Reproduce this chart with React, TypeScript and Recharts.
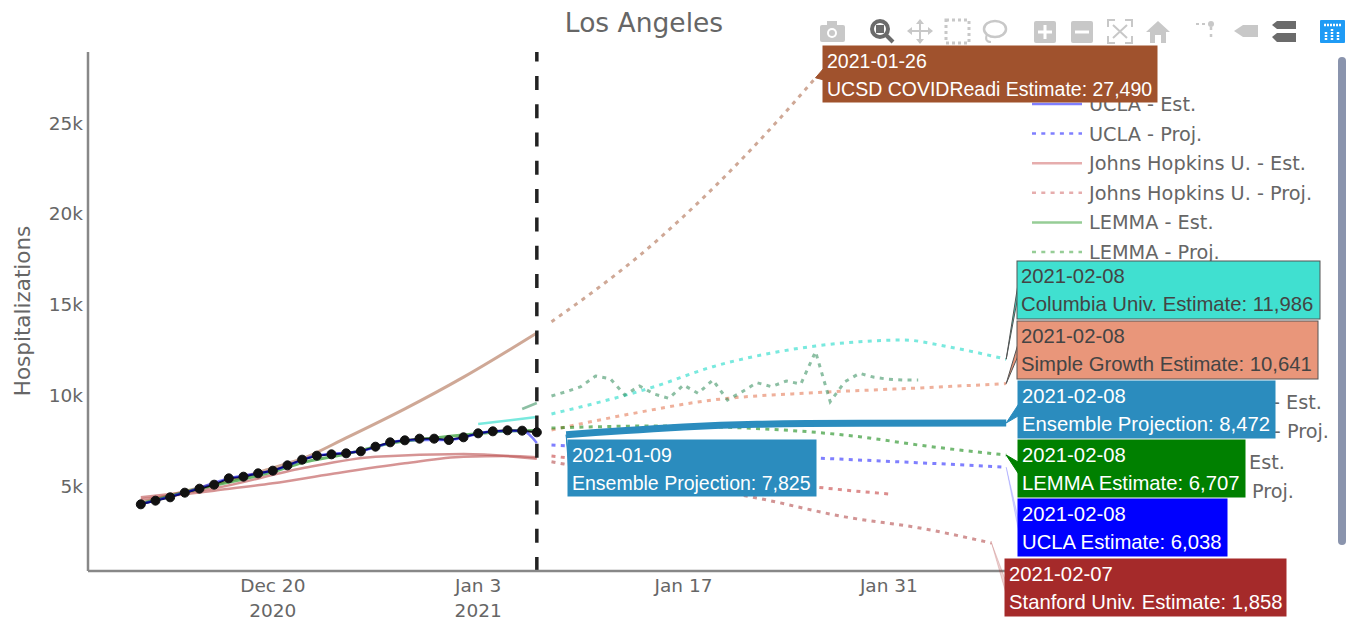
import { LineChart, Line, XAxis, YAxis, ReferenceLine, ReferenceDot } from 'recharts'

// x values are days counted from 2020-12-20
const xTicks = [0, 14, 28, 42]
const xTickLabels: Record<number, string[]> = {
  0: ['Dec 20', '2020'],
  14: ['Jan 3', '2021'],
  28: ['Jan 17'],
  42: ['Jan 31'],
}
const yTicks = [5000, 10000, 15000, 20000, 25000]

const observedDays = [-9, -8, -7, -6, -5, -4, -3, -2, -1, 0, 1, 2, 3, 4, 5, 6, 7, 8, 9, 10, 11, 12, 13, 14, 15, 16, 17, 18]
const observedValues = [3990, 4192, 4376, 4633, 4853, 5073, 5422, 5514, 5698, 5845, 6139, 6451, 6671, 6745, 6800, 6910, 7167, 7406, 7516, 7608, 7608, 7535, 7682, 7902, 8012, 8067, 8049, 7957]

const uclaEstDays = [-9, -6, -3, 0, 3, 6, 9, 12, 15, 17, 18]
const uclaEstValues = [4000, 4640, 5420, 5850, 6680, 6920, 7520, 7540, 8020, 8040, 7370]
const lemmaEstDays = [-9, -5, 0, 2, 5, 8, 11, 14, 16, 18]
const lemmaEstValues = [4020, 4860, 5780, 6280, 6760, 7350, 7640, 7880, 8030, 8060]

const ucsdEstDays = [-9, -5, -2, 0, 2, 5, 9, 13, 18]
const ucsdEstValues = [4100, 4900, 5500, 6000, 6500, 7650, 9250, 11000, 13430]
const ucsdProjDays = [19, 22, 25, 28, 31, 34, 37]
const ucsdProjValues = [14053, 15800, 17700, 19850, 22200, 24750, 27490]

const jhEstADays = [-9, -4, 2, 7, 13, 18]
const jhEstAValues = [4376, 4872, 5973, 6616, 6763, 6506]
const jhEstBDays = [-9, -4, 0, 4, 9, 13, 16, 18]
const jhEstBValues = [4265, 4743, 5147, 5661, 6249, 6616, 6653, 6580]
const jhProjDays = [19, 25, 31, 37, 42]
const jhProjValues = [6650, 6100, 5600, 4945, 4560]

const stanfordProjDays = [19, 26, 33, 39, 44, 49]
const stanfordProjValues = [6339, 5300, 4340, 3300, 2700, 1858]

const uclaProjDays = [19, 28, 37, 44, 50]
const uclaProjValues = [7259, 6900, 6543, 6283, 6038]
const lemmaProjDays = [19, 26, 34, 40, 44, 50]
const lemmaProjValues = [8196, 8306, 8123, 7716, 7259, 6707]

const columbiaEstDays = [14, 18]
const columbiaEstValues = [8416, 8802]
const columbiaProjDays = [19, 26, 30, 34, 37, 40, 43, 46, 50]
const columbiaProjValues = [8967, 10470, 11574, 12328, 12714, 12951, 13045, 12676, 11986]

const growthProjDays = [19, 24, 30, 37, 44, 50]
const growthProjValues = [8086, 8912, 9739, 10141, 10400, 10641]

const ensembleDays = [20, 22, 25, 28, 33, 40, 50]
const ensembleValues = [7825, 7950, 8100, 8250, 8400, 8460, 8472]

const noisyEstDays = [17, 18]
const noisyEstValues = [9243, 9573]
const noisyProjDays = [19, 20, 21, 22, 23, 24, 25, 26, 27, 28, 29, 30, 31, 32, 33, 34, 35, 36, 37, 38, 39, 40, 41, 42, 43, 44]
const noisyProjValues = [9959, 10198, 10473, 11061, 10914, 10014, 10510, 10069, 9830, 10565, 10106, 10841, 9739, 10198, 10694, 10473, 10786, 10620, 12402, 9647, 10749, 11208, 10988, 10878, 10841, 10841]

const legendLabels = ['UCLA - Est.', 'UCLA - Proj.', 'Johns Hopkins U. - Est.', 'Johns Hopkins U. - Proj.', 'LEMMA - Est.', 'LEMMA - Proj.']
const legendColors = ['#0000ff', '#0000ff', '#cd5c5c', '#cd5c5c', '#2e9b2e', '#2e9b2e']
const legendTails = ['- Est.', '- Proj.', 'Est.', 'Proj.']

const pairs = (days: number[], values: number[]) => days.map((day, i) => ({ day, value: values[i] }))

const DOTTED = '4 5.3'
const TIP_FONT = '"Liberation Sans", Arial, sans-serif'
const UI_FONT = '"DejaVu Sans", Verdana, sans-serif'

function DateTick({ x, y, payload }: any) {
  const lines = xTickLabels[payload.value] || []
  return (
    <g>
      {lines.map((t, i) => (
        <text key={t} x={x} y={y + 13 + i * 25} textAnchor="middle" fontSize={18.5} fontFamily={UI_FONT} fill="#666">
          {t}
        </text>
      ))}
    </g>
  )
}

interface CalloutProps {
  cx?: number
  cy?: number
  box: [number, number, number, number]
  fill: string
  date: string
  label: string
  color?: string
  border?: string
  tailOpacity?: number
  size?: number
}

function Callout({ cx = 0, cy = 0, box, fill, date, label, color = '#fff', border, tailOpacity = 1, size = 20.3 }: CalloutProps) {
  const [x, y, w, h] = box
  const mid = y + h / 2
  const outline = border || fill
  return (
    <g>
      <path d={`M${cx},${cy} L${x + 1},${mid - 6} L${x + 1},${mid + 6} Z`} fill={fill} fillOpacity={tailOpacity} stroke={outline} strokeOpacity={tailOpacity} strokeWidth={1} />
      <rect x={x} y={y} width={w} height={h} fill={fill} stroke={outline} strokeWidth={1} />
      <text x={x + 4} y={y + 22} fontSize={size} fontFamily={TIP_FONT} fill={color}>{date}</text>
      <text x={x + 4} y={y + 50} fontSize={size} fontFamily={TIP_FONT} fill={color}>{label}</text>
    </g>
  )
}

function LegendRows() {
  return (
    <g fontFamily={UI_FONT} fontSize={19.3} fill="#666">
      {legendLabels.map((t, i) => {
        const y = 104 + i * 29.6
        const dotted = i % 2 === 1
        return (
          <g key={t}>
            <line x1={1032} x2={1082} y1={y} y2={y} stroke={legendColors[i]} strokeOpacity={0.5} strokeWidth={2.5} strokeDasharray={dotted ? DOTTED : undefined} />
            <text x={1089} y={y + 7}>{t}</text>
          </g>
        )
      })}
      <text x={1322} y={409} textAnchor="end">{legendTails[0]}</text>
      <text x={1329} y={438} textAnchor="end">{legendTails[1]}</text>
      <text x={1285} y={469} textAnchor="end">{legendTails[2]}</text>
      <text x={1294} y={498} textAnchor="end">{legendTails[3]}</text>
    </g>
  )
}

function ModeBar() {
  const c = '#c8c8c8'
  const d = '#6b6b6b'
  return (
    <g>
      {/* camera */}
      <rect x={820} y={25} width={25} height={17} rx={2} fill={c} />
      <rect x={827} y={21} width={10} height={5} fill={c} />
      <circle cx={832} cy={33} r={5} fill="#fff" />
      <circle cx={832} cy={33} r={3} fill={c} />
      {/* zoom */}
      <circle cx={880} cy={29} r={8} fill="none" stroke={d} strokeWidth={4} />
      <rect x={876} y={25} width={8} height={8} fill={d} />
      <line x1={886} y1={35} x2={893} y2={42} stroke={d} strokeWidth={4} />
      {/* pan */}
      <path d="M920,20 V43 M908,31 H932" stroke={c} strokeWidth={2} />
      <path d="M916,24 L920,19 L924,24 Z M916,39 L920,44 L924,39 Z M912,27 L907,31 L912,35 Z M928,27 L933,31 L928,35 Z" fill={c} />
      {/* box select */}
      <rect x={946} y={20} width={23} height={23} fill="none" stroke={c} strokeWidth={3} strokeDasharray="3 3" />
      {/* lasso */}
      <ellipse cx={995} cy={29} rx={11} ry={8} fill="none" stroke={c} strokeWidth={2.5} />
      <path d="M987,34 Q984,42 991,42" fill="none" stroke={c} strokeWidth={2} />
      {/* zoom in / out */}
      <rect x={1034} y={21} width={22} height={22} rx={2} fill={c} />
      <path d="M1045,25 V39 M1038,32 H1052" stroke="#fff" strokeWidth={3} />
      <rect x={1071} y={21} width={22} height={22} rx={2} fill={c} />
      <path d="M1075,32 H1089" stroke="#fff" strokeWidth={3} />
      {/* autoscale */}
      <path d="M1108,27 V20 H1115 M1125,20 H1132 V27 M1132,36 V43 H1125 M1115,43 H1108 V36" fill="none" stroke={c} strokeWidth={2} />
      <path d="M1113,25 L1127,38 M1127,25 L1113,38" stroke={c} strokeWidth={2} />
      {/* home */}
      <path d="M1146,32 L1158,21 L1170,32 H1166 V43 H1161 V35 H1155 V43 H1150 V32 Z" fill={c} />
      {/* spikes */}
      <path d="M1196,24 H1207" stroke={c} strokeWidth={2} strokeDasharray="3 3" />
      <path d="M1211,27 V41" stroke={c} strokeWidth={2.5} strokeDasharray="3 4" />
      <circle cx={1211} cy={24} r={3} fill={c} />
      {/* tag */}
      <path d="M1234,31 L1243,25 H1258 V37 H1243 Z" fill={c} />
      {/* compare */}
      <path d="M1272,25 L1277,21 H1296 V29 H1277 Z M1272,37 L1277,33 H1296 V42 H1277 Z" fill={d} />
      {/* logo */}
      <rect x={1320} y={20} width={25} height={23} rx={1} fill="#1f9bf5" />
      <path d="M1326,40 V32 M1332,40 V28 M1338,40 V32 M1324,25 H1342" stroke="#fff" strokeWidth={2.5} strokeDasharray="2 1" />
    </g>
  )
}

export default function App() {
  return (
    <div style={{ position: 'absolute', left: 0, top: 0, width: 1346, height: 628, background: '#fff' }}>
      <LineChart width={1346} height={628} margin={{ top: 52, right: 331, bottom: 0, left: 28 }}>
        <XAxis
          type="number"
          dataKey="day"
          domain={[-12.6, 50.6]}
          ticks={xTicks}
          tick={<DateTick />}
          tickLine={false}
          height={57}
          stroke="#888"
          strokeWidth={2.5}
        />
        <YAxis
          type="number"
          dataKey="value"
          domain={[317, 28912]}
          ticks={yTicks}
          allowDataOverflow
          tickFormatter={(v: number) => `${v / 1000}k`}
          tickLine={false}
          tickSize={3}
          width={60}
          stroke="#888"
          strokeWidth={2.5}
          tick={{ fontSize: 18.5, fontFamily: UI_FONT, fill: '#666' }}
        />

        <Line data={pairs(ucsdEstDays, ucsdEstValues)} dataKey="value" type="monotone" stroke="#a0522d" strokeOpacity={0.5} strokeWidth={3} dot={false} isAnimationActive={false} />
        <Line data={pairs(ucsdProjDays, ucsdProjValues)} dataKey="value" type="monotone" stroke="#a0522d" strokeOpacity={0.5} strokeWidth={3} strokeDasharray={DOTTED} dot={false} isAnimationActive={false} />
        <Line data={pairs(jhEstADays, jhEstAValues)} dataKey="value" type="monotone" stroke="#c05a5a" strokeOpacity={0.65} strokeWidth={2.5} dot={false} isAnimationActive={false} />
        <Line data={pairs(jhEstBDays, jhEstBValues)} dataKey="value" type="monotone" stroke="#c05a5a" strokeOpacity={0.65} strokeWidth={2.5} dot={false} isAnimationActive={false} />
        <Line data={pairs(jhProjDays, jhProjValues)} dataKey="value" type="monotone" stroke="#cd5c5c" strokeOpacity={0.7} strokeWidth={3} strokeDasharray={DOTTED} dot={false} isAnimationActive={false} />
        <Line data={pairs(stanfordProjDays, stanfordProjValues)} dataKey="value" type="monotone" stroke="#a52a2a" strokeOpacity={0.5} strokeWidth={3} strokeDasharray={DOTTED} dot={false} isAnimationActive={false} />
        <Line data={pairs(columbiaEstDays, columbiaEstValues)} dataKey="value" type="monotone" stroke="#40e0d0" strokeOpacity={0.7} strokeWidth={2.5} dot={false} isAnimationActive={false} />
        <Line data={pairs(columbiaProjDays, columbiaProjValues)} dataKey="value" type="monotone" stroke="#40e0d0" strokeOpacity={0.7} strokeWidth={3} strokeDasharray={DOTTED} dot={false} isAnimationActive={false} />
        <Line data={pairs(growthProjDays, growthProjValues)} dataKey="value" type="monotone" stroke="#e9967a" strokeOpacity={0.75} strokeWidth={3} strokeDasharray={DOTTED} dot={false} isAnimationActive={false} />
        <Line data={pairs(noisyEstDays, noisyEstValues)} dataKey="value" type="linear" stroke="#2e8b57" strokeOpacity={0.55} strokeWidth={2.5} dot={false} isAnimationActive={false} />
        <Line data={pairs(noisyProjDays, noisyProjValues)} dataKey="value" type="linear" stroke="#2e8b57" strokeOpacity={0.55} strokeWidth={3} strokeDasharray={DOTTED} dot={false} isAnimationActive={false} />
        <Line data={pairs(lemmaProjDays, lemmaProjValues)} dataKey="value" type="monotone" stroke="#008000" strokeOpacity={0.55} strokeWidth={3} strokeDasharray={DOTTED} dot={false} isAnimationActive={false} />
        <Line data={pairs(uclaProjDays, uclaProjValues)} dataKey="value" type="monotone" stroke="#0000ff" strokeOpacity={0.5} strokeWidth={3} strokeDasharray={DOTTED} dot={false} isAnimationActive={false} />
        <Line data={pairs(ensembleDays, ensembleValues)} dataKey="value" type="monotone" stroke="#2b8cbe" strokeWidth={7} dot={false} isAnimationActive={false} />
        <Line data={pairs(lemmaEstDays, lemmaEstValues)} dataKey="value" type="monotone" stroke="#2e9b2e" strokeOpacity={0.7} strokeWidth={3} dot={false} isAnimationActive={false} />
        <Line data={pairs(observedDays, observedValues)} dataKey="value" type="linear" stroke="#111" strokeWidth={2} dot={{ r: 4.5, fill: '#111', stroke: '#111', strokeWidth: 1 }} isAnimationActive={false} />
        <Line data={pairs(uclaEstDays, uclaEstValues)} dataKey="value" type="monotone" stroke="#0000ff" strokeOpacity={0.5} strokeWidth={2.5} dot={false} isAnimationActive={false} />

        <ReferenceLine x={18} stroke="#222" strokeWidth={3.5} strokeDasharray="14 14.3" />

        <text x={644} y={32} textAnchor="middle" fontSize={26.5} fontFamily={UI_FONT} fill="#666">Los Angeles</text>
        <text transform="translate(30,311) rotate(-90)" textAnchor="middle" fontSize={21.5} fontFamily={UI_FONT} fill="#666">Hospitalizations</text>
        <rect x={1338} y={57} width={8} height={488} rx={4} fill="#8a94ad" />
        <ModeBar />
        <LegendRows />

        <ReferenceDot x={37} y={27490} shape={(p: any) => <Callout cx={p.cx} cy={p.cy} box={[823, 46, 334, 56]} fill="#a0522d" size={19.5} date="2021-01-26" label="UCSD COVIDReadi Estimate: 27,490" />} />
        <ReferenceDot x={20} y={7825} shape={(p: any) => <Callout cx={p.cx} cy={p.cy} box={[568, 440, 248, 56]} fill="#2b8cbe" size={19.5} date="2021-01-09" label="Ensemble Projection: 7,825" />} />
        <ReferenceDot x={49} y={1858} shape={(p: any) => <Callout cx={p.cx} cy={p.cy} box={[1005, 559, 281, 57]} fill="#a52a2a" date="2021-02-07" label="Stanford Univ. Estimate: 1,858" tailOpacity={0.2} />} />
        <ReferenceDot x={50} y={6038} shape={(p: any) => <Callout cx={p.cx} cy={p.cy} box={[1018, 499, 209, 57]} fill="#0000ff" date="2021-02-08" label="UCLA Estimate: 6,038" tailOpacity={0.15} />} />
        <ReferenceDot x={50} y={6707} shape={(p: any) => <Callout cx={p.cx} cy={p.cy} box={[1018, 440, 227, 57]} fill="#008000" date="2021-02-08" label="LEMMA Estimate: 6,707" />} />
        <ReferenceDot x={50} y={8472} shape={(p: any) => <Callout cx={p.cx} cy={p.cy} box={[1018, 381, 257, 57]} fill="#2b8cbe" date="2021-02-08" label="Ensemble Projection: 8,472" />} />
        <ReferenceDot x={50} y={10641} shape={(p: any) => <Callout cx={p.cx} cy={p.cy} box={[1017, 321, 301, 58]} fill="#e9967a" color="#444" border="#555" date="2021-02-08" label="Simple Growth Estimate: 10,641" />} />
        <ReferenceDot x={50} y={11986} shape={(p: any) => <Callout cx={p.cx} cy={p.cy} box={[1017, 261, 303, 58]} fill="#40e0d0" color="#444" border="#555" date="2021-02-08" label="Columbia Univ. Estimate: 11,986" />} />
      </LineChart>
    </div>
  )
}
